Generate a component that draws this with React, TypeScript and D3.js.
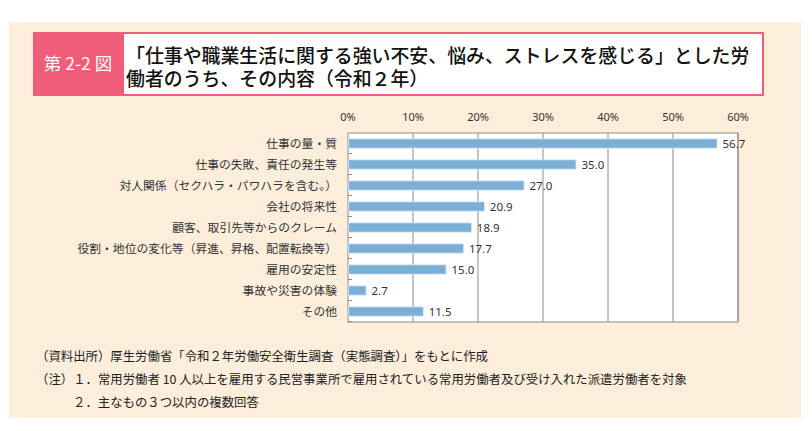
import React, { useEffect, useRef } from "react";
import * as d3 from "d3";

const categories = [
  "仕事の量・質",
  "仕事の失敗、責任の発生等",
  "対人関係（セクハラ・パワハラを含む。）",
  "会社の将来性",
  "顧客、取引先等からのクレーム",
  "役割・地位の変化等（昇進、昇格、配置転換等）",
  "雇用の安定性",
  "事故や災害の体験",
  "その他",
];
const values = [56.7, 35.0, 27.0, 20.9, 18.9, 17.7, 15.0, 2.7, 11.5];
const ticks = [0, 10, 20, 30, 40, 50, 60];

const titleLines = [
  "「仕事や職業生活に関する強い不安、悩み、ストレスを感じる」とした労",
  "働者のうち、その内容（令和２年）",
];
const notes = [
  "（資料出所）厚生労働省「令和２年労働安全衛生調査（実態調査）」をもとに作成",
  "（注）１．常用労働者 10 人以上を雇用する民営事業所で雇用されている常用労働者及び受け入れた派遣労働者を対象",
  "２．主なもの３つ以内の複数回答",
];

const W = 812;
const H = 431;
const JP = "'Noto Sans CJK JP', sans-serif";

const App: React.FC = () => {
  const svgRef = useRef<SVGSVGElement | null>(null);

  useEffect(() => {
    if (!svgRef.current) return;
    const svg = d3.select(svgRef.current);
    svg.selectAll("*").remove();

    // background panel
    svg.append("rect").attr("x", 9).attr("y", 22).attr("width", 792).attr("height", 396).attr("fill", "#fdeedb");

    // title box
    svg.append("rect").attr("x", 33).attr("y", 32).attr("width", 731).attr("height", 64).attr("fill", "#ef5d78");
    svg.append("rect").attr("x", 124).attr("y", 34).attr("width", 638).attr("height", 60).attr("fill", "#fff");
    svg.append("text")
      .attr("x", 78).attr("y", 70)
      .attr("text-anchor", "middle")
      .attr("fill", "#fff")
      .attr("font-family", JP)
      .attr("font-size", 17.5)
      .text("第 2-2 図");
    svg.selectAll("text.title")
      .data(titleLines)
      .join("text")
      .attr("class", "title")
      .attr("x", 126)
      .attr("y", (_, i) => 62.5 + i * 23)
      .attr("fill", "#111")
      .attr("font-family", JP)
      .attr("font-weight", 500)
      .attr("font-size", 18.9)
      .text((d) => d);

    // chart
    const margin = { top: 133, left: 348 };
    const innerWidth = 390;
    const innerHeight = 189;

    const x = d3.scaleLinear().domain([0, 60]).range([0, innerWidth]);
    const y = d3.scaleBand<string>().domain(categories).range([0, innerHeight]).paddingInner(0.56).paddingOuter(0.28);

    const g = svg.append("g").attr("transform", `translate(${margin.left},${margin.top})`);

    g.append("rect").attr("width", innerWidth).attr("height", innerHeight).attr("fill", "#fff");

    // vertical gridlines
    g.append("g")
      .selectAll("line")
      .data(ticks.slice(1))
      .join("line")
      .attr("x1", (d) => x(d))
      .attr("x2", (d) => x(d))
      .attr("y1", 0)
      .attr("y2", innerHeight)
      .attr("stroke", "#8c8c8c")
      .attr("stroke-width", 1);

    // border
    g.append("rect")
      .attr("width", innerWidth)
      .attr("height", innerHeight)
      .attr("fill", "none")
      .attr("stroke", "#8c8c8c")
      .attr("stroke-width", 1);

    // small ticks at band boundaries
    const step = innerHeight / categories.length;
    g.append("g")
      .selectAll("line")
      .data(d3.range(1, categories.length + 1))
      .join("line")
      .attr("x1", 0)
      .attr("x2", 4)
      .attr("y1", (d) => Math.round(d * step) - 0.5)
      .attr("y2", (d) => Math.round(d * step) - 0.5)
      .attr("stroke", "#8c8c8c");

    // top axis labels
    g.append("g")
      .selectAll("text")
      .data(ticks)
      .join("text")
      .attr("x", (d) => x(d))
      .attr("y", -12)
      .attr("text-anchor", "middle")
      .attr("font-family", "'Noto Sans', sans-serif")
      .attr("font-size", 11)
      .attr("fill", "#333")
      .text((d) => `${d}%`);

    // bars
    g.append("g")
      .selectAll("rect")
      .data(values)
      .join("rect")
      .attr("x", 0.5)
      .attr("y", (_, i) => y(categories[i])!)
      .attr("width", (d) => x(d))
      .attr("height", y.bandwidth())
      .attr("fill", "#7bafd6")
      .attr("stroke", "#d6e6f3")
      .attr("stroke-width", 0.8);

    // value labels
    g.append("g")
      .selectAll("text")
      .data(values)
      .join("text")
      .attr("x", (d) => x(d) + 6)
      .attr("y", (_, i) => y(categories[i])! + y.bandwidth() / 2)
      .attr("dy", "0.36em")
      .attr("font-family", "'Noto Sans', sans-serif")
      .attr("font-size", 11.5)
      .attr("fill", "#333")
      .text((d) => d.toFixed(1));

    // category labels
    g.append("g")
      .selectAll("text")
      .data(categories)
      .join("text")
      .attr("x", -11)
      .attr("y", (d) => y(d)! + y.bandwidth() / 2)
      .attr("dy", "0.36em")
      .attr("text-anchor", "end")
      .attr("font-family", JP)
      .attr("font-size", 11.8)
      .attr("fill", "#333")
      .text((d) => d);

    // notes
    svg.selectAll("text.note")
      .data(notes)
      .join("text")
      .attr("class", "note")
      .attr("x", (_, i) => (i === 2 ? 73 : 36))
      .attr("y", (_, i) => 361 + i * 23)
      .attr("font-family", JP)
      .attr("font-size", 12.4)
      .attr("fill", "#222")
      .text((d) => d);
  }, []);

  return (
    <svg
      ref={svgRef}
      width={W}
      height={H}
      style={{ position: "absolute", left: 0, top: 0, background: "#fff" }}
    />
  );
};

export default App;
